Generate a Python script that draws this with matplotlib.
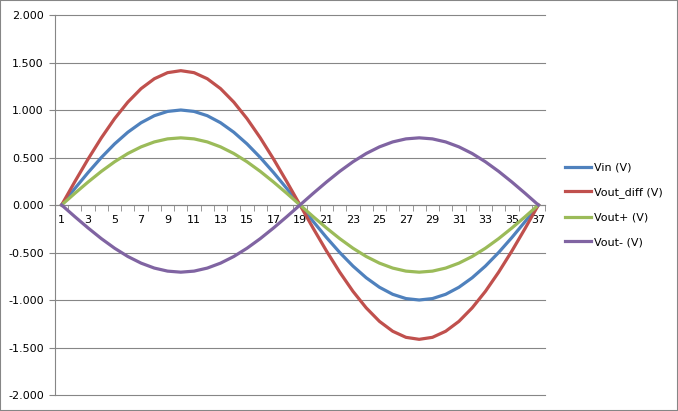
import numpy as np
import matplotlib.pyplot as plt
from matplotlib.patches import Rectangle

# Daten
points = list(range(1, 38))
vin = [0.000, 0.174, 0.342, 0.500, 0.643, 0.766, 0.866, 0.940, 0.985, 1.000,
       0.985, 0.940, 0.866, 0.766, 0.643, 0.500, 0.342, 0.174, 0.000,
       -0.174, -0.342, -0.500, -0.643, -0.766, -0.866, -0.940, -0.985, -1.000,
       -0.985, -0.940, -0.866, -0.766, -0.643, -0.500, -0.342, -0.174, 0.000]
vout_diff = [0.000, 0.246, 0.484, 0.707, 0.909, 1.083, 1.225, 1.329, 1.393, 1.414,
             1.393, 1.329, 1.225, 1.083, 0.909, 0.707, 0.484, 0.246, 0.000,
             -0.246, -0.484, -0.707, -0.909, -1.083, -1.225, -1.329, -1.393, -1.414,
             -1.393, -1.329, -1.225, -1.083, -0.909, -0.707, -0.484, -0.246, 0.000]
vout_p = [0.000, 0.123, 0.242, 0.354, 0.455, 0.542, 0.612, 0.664, 0.696, 0.707,
          0.696, 0.664, 0.612, 0.542, 0.455, 0.354, 0.242, 0.123, 0.000,
          -0.123, -0.242, -0.354, -0.455, -0.542, -0.612, -0.664, -0.696, -0.707,
          -0.696, -0.664, -0.612, -0.542, -0.455, -0.354, -0.242, -0.123, 0.000]
vout_m = [0.000, -0.123, -0.242, -0.354, -0.455, -0.542, -0.612, -0.664, -0.696, -0.707,
          -0.696, -0.664, -0.612, -0.542, -0.455, -0.354, -0.242, -0.123, 0.000,
          0.123, 0.242, 0.354, 0.455, 0.542, 0.612, 0.664, 0.696, 0.707,
          0.696, 0.664, 0.612, 0.542, 0.455, 0.354, 0.242, 0.123, 0.000]

series = [("Vin (V)", vin, "#4F81BD"),
          ("Vout_diff (V)", vout_diff, "#C0504D"),
          ("Vout+ (V)", vout_p, "#9BBB59"),
          ("Vout- (V)", vout_m, "#8064A2")]

grey = "#868686"

fig = plt.figure(figsize=(6.78, 4.11), dpi=100)
fig.patches.append(Rectangle((0, 0), 1, 1, transform=fig.transFigure,
                             fill=False, edgecolor=grey, linewidth=1.5))
ax = fig.add_axes([55/678, 16/411, 490/678, 380/411])

for name, vals, col in series:
    ax.plot(points, vals, color=col, linewidth=2.3, label=name)

ax.set_xlim(0.5, 37.5)
ax.set_ylim(-2, 2)

ax.set_yticks(np.arange(-2, 2.01, 0.5))
ax.set_yticklabels(["%.3f" % v for v in np.arange(-2, 2.01, 0.5)])
ax.yaxis.grid(True, color=grey, linewidth=0.8)
for gl in ax.yaxis.get_gridlines():
    gl.set_clip_on(False)
ax.set_axisbelow(True)

ax.set_xticks(points[::2])
ax.set_xticks(np.arange(0.5, 38, 1), minor=True)

for s in ["top", "right"]:
    ax.spines[s].set_visible(False)
ax.spines["bottom"].set_position(("data", 0))
ax.spines["bottom"].set_color(grey)
ax.spines["left"].set_color(grey)
ax.spines["bottom"].set_zorder(0.5)

ax.tick_params(axis="x", which="major", length=0, labelsize=8, pad=7)
ax.tick_params(axis="x", which="minor", length=4, color=grey, direction="out")
ax.tick_params(axis="y", length=4, color=grey, labelsize=8, pad=4)

ax.legend(loc="center left", bbox_to_anchor=(1.02, 0.5), frameon=False,
          fontsize=8, handlelength=2.4, handletextpad=0.2, labelspacing=1.3)

fig.savefig("out.png", dpi=100)
